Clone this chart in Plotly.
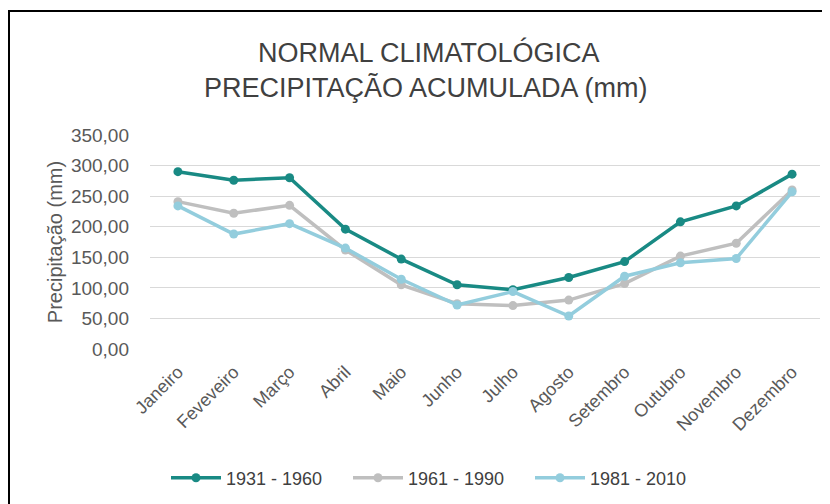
import plotly.graph_objects as go

months = ["Janeiro", "Feveveiro", "Março", "Abril", "Maio", "Junho", "Julho",
          "Agosto", "Setembro", "Outubro", "Novembro", "Dezembro"]
s1931_1960 = [290, 276, 280, 196, 147, 105, 97, 117, 143, 208, 234, 286]
s1961_1990 = [241, 222, 235, 162, 105, 74, 71, 80, 107, 152, 173, 260]
s1981_2010 = [234, 188, 205, 165, 114, 72, 94, 54, 119, 141, 148, 257]
series_names = ["1931 - 1960", "1961 - 1990", "1981 - 2010"]
colors = ["#198A84", "#BFBFBF", "#93CDDD"]

fig = go.Figure()
for name, vals, col in zip(series_names, [s1931_1960, s1961_1990, s1981_2010], colors):
    fig.add_trace(go.Scatter(
        x=months, y=vals, name=name, mode="lines+markers",
        line=dict(color=col, width=3.5),
        marker=dict(color=col, size=9),
    ))

OFF = 8  # page body margin
W, H = 830, 504
# target plot area in screenshot pixels: x 150..820, y 135..349
L = 150 - OFF
T = 135 - OFF
R = W - (820 - OFF)
B = H - (349 - OFF)
pw = W - L - R
ph = H - T - B

def px_x(x):
    return (x - OFF - L) / pw

def px_y(y):
    return (H - B - (y - OFF)) / ph

title_font = dict(family="Liberation Sans, Arial, sans-serif", size=27, color="#404040")

fig.update_layout(
    width=W, height=H,
    margin=dict(l=L, r=R, t=T, b=B, autoexpand=False),
    paper_bgcolor="white", plot_bgcolor="white",
    separators=",.",
    font=dict(family="Liberation Sans, Arial, sans-serif", color="#595959"),
    showlegend=True,
    legend=dict(orientation="h", x=px_x(166), xanchor="left", y=px_y(478), yanchor="middle",
                font=dict(size=18, color="#404040"), itemwidth=50, tracegroupgap=0,
                entrywidth=117, entrywidthmode="pixels",
                bgcolor="rgba(0,0,0,0)"),
    xaxis=dict(type="category", range=[-0.5, 11.5], showgrid=False, showline=False,
               zeroline=False, tickangle=-45, ticks="", ticklabelstandoff=8,
               automargin=False, tickfont=dict(size=18, color="#595959")),
    yaxis=dict(range=[0, 350], dtick=50, tickformat=".2f", showgrid=True,
               gridcolor="#D9D9D9", gridwidth=1, zeroline=False, showline=False,
               ticks="", ticklabelstandoff=20, automargin=False,
               tickfont=dict(size=19, color="#595959"),
               title=dict(text="Precipitação (mm)", font=dict(size=20, color="#595959"),
                          standoff=2)),
    annotations=[
        dict(text="NORMAL CLIMATOLÓGICA", xref="paper", yref="paper",
             x=px_x(429), y=px_y(52), xanchor="center", yanchor="middle", showarrow=False,
             font=title_font),
        dict(text="PRECIPITAÇÃO ACUMULADA (mm)", xref="paper", yref="paper",
             x=px_x(426), y=px_y(87), xanchor="center", yanchor="middle", showarrow=False,
             font=title_font),
    ],
    shapes=[
        dict(type="rect", xref="paper", yref="paper",
             x0=px_x(9), x1=px_x(850), y0=px_y(525), y1=px_y(11),
             line=dict(color="black", width=2), fillcolor="rgba(0,0,0,0)", layer="below"),
    ],
)

fig.write_html("out.html")
